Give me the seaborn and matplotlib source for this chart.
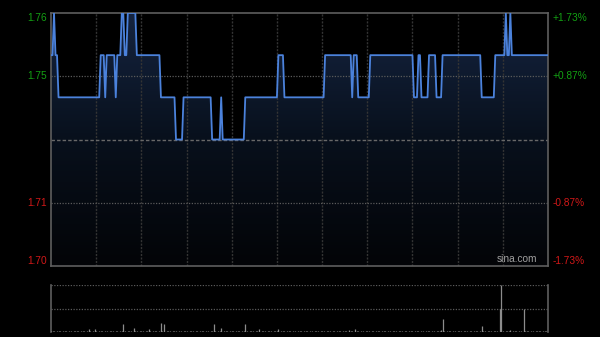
import numpy as np
import pandas as pd
import matplotlib
matplotlib.use("Agg")
import matplotlib.pyplot as plt
import seaborn as sns
from matplotlib.patches import Polygon
from matplotlib.colors import LinearSegmentedColormap

# ---------------- data ----------------
# price level changes: minute index where a new price starts, and that price
seg_start = [0, 2, 3, 5, 33, 36, 37, 43, 44, 47, 49, 51, 57, 73, 83, 88,
             107, 113, 114, 129, 151, 155, 182, 200, 201, 204, 212, 241,
             244, 246, 251, 256, 260, 286, 295, 302, 303, 305, 306]
seg_price = [1.75, 1.76, 1.75, 1.74, 1.75, 1.74, 1.75, 1.74, 1.75, 1.76,
             1.75, 1.76, 1.75, 1.74, 1.73, 1.74, 1.73, 1.74, 1.73, 1.74,
             1.75, 1.74, 1.75, 1.74, 1.75, 1.74, 1.75, 1.74, 1.75, 1.74,
             1.75, 1.74, 1.75, 1.74, 1.75, 1.76, 1.75, 1.76, 1.75]
n_minutes = 331

volume = [
    3, 2, 2, 1, 2, 3, 2, 1, 2, 2, 3, 1, 2, 2, 1, 2, 3, 2, 2, 1, 2, 2, 3, 1, 2, 7, 2, 1, 2, 6,
    2, 1, 2, 3, 2, 1, 2, 2, 1, 3, 2, 2, 1, 2, 3, 1, 2, 2, 17, 2, 1, 2, 3, 2, 1, 9, 2, 2, 1, 2,
    2, 3, 1, 2, 2, 6, 2, 1, 3, 2, 2, 1, 2, 19, 2, 16, 1, 2, 3, 2, 1, 2, 2, 3, 1, 2, 2, 1, 3, 2,
    2, 1, 2, 2, 3, 1, 2, 2, 1, 2, 3, 2, 1, 2, 2, 1, 3, 2, 17, 2, 1, 2, 2, 9, 1, 2, 3, 2, 1, 2,
    2, 2, 1, 3, 2, 2, 1, 2, 3, 17, 2, 1, 2, 2, 3, 1, 2, 2, 6, 1, 2, 3, 2, 1, 2, 2, 3, 1, 2, 2,
    2, 7, 1, 2, 3, 2, 1, 2, 2, 3, 1, 2, 2, 1, 3, 2, 2, 1, 2, 3, 2, 1, 2, 2, 1, 3, 2, 2, 1, 2,
    3, 2, 1, 2, 2, 3, 1, 2, 2, 1, 2, 3, 2, 1, 2, 2, 3, 1, 5, 2, 2, 1, 6, 2, 3, 1, 2, 2, 1, 2,
    2, 3, 1, 2, 2, 1, 3, 2, 2, 1, 2, 2, 3, 1, 2, 2, 1, 3, 2, 2, 1, 2, 2, 3, 1, 2, 2, 1, 2, 3,
    2, 1, 2, 2, 3, 1, 2, 2, 1, 2, 3, 2, 1, 2, 2, 1, 3, 2, 2, 5, 28, 2, 1, 2, 3, 2, 1, 2, 2, 1,
    2, 3, 2, 1, 2, 2, 3, 1, 2, 2, 1, 2, 3, 2, 1, 2, 12, 2, 2, 1, 3, 2, 2, 1, 2, 3, 2, 1, 50, 100,
    2, 1, 3, 2, 2, 5, 1, 2, 2, 3, 1, 2, 2, 1, 50, 2, 2, 3, 1, 2, 2, 1, 2, 3, 2, 2, 1, 2, 2, 3,
    2,
]

prev_close = 1.73
y_min, y_max = 1.70, 1.76
left_tick_values = [1.76, 1.745, 1.715, 1.70]
left_tick_labels = ["1.76", "1.75", "1.71", "1.70"]
right_tick_labels = ["+1.73%", "+0.87%", "-0.87%", "-1.73%"]
grid_minutes = [30, 60, 90, 120, 150, 180, 210, 240, 270, 300]

# ---------------- build frame ----------------
durations = np.diff(seg_start + [n_minutes])
price = np.repeat(seg_price, durations)
minute = np.arange(n_minutes)
df = pd.DataFrame({"minute": minute, "price": price, "volume": volume})

sns.set_theme(style="dark")
plt.rcParams["font.family"] = ["Liberation Sans", "DejaVu Sans"]

W, H = 600, 337
fig = plt.figure(figsize=(W / 100, H / 100), dpi=100, facecolor="black")
ax = fig.add_axes([51 / W, 1 - 266 / H, (548 - 51) / W, (266 - 13) / H])
axv = fig.add_axes([51 / W, 1 - 332 / H, (548 - 51) / W, (332 - 285) / H])

for a in (ax, axv):
    a.set_facecolor("black")
    a.set_xlim(0, n_minutes - 1)
    a.set_xticks([])
    a.set_yticks([])
    a.set_xlabel("")
    a.set_ylabel("")
    a.grid(False)

ax.set_ylim(y_min, y_max)

# gradient fill under price line
cmap = LinearSegmentedColormap.from_list("g", ["#030407", "#08101c", "#152440"])
grad = np.linspace(0, 1, 256).reshape(-1, 1)
im = ax.imshow(grad, extent=[0, n_minutes - 1, y_min, y_max], origin="lower",
               aspect="auto", cmap=cmap, zorder=1, interpolation="bilinear")
verts = [(0, y_min)] + list(zip(df["minute"], df["price"])) + [(n_minutes - 1, y_min)]
clip = Polygon(verts, closed=True, transform=ax.transData)
im.set_clip_path(clip)

# grid lines
for m in grid_minutes:
    ax.axvline(m, color="#343434", lw=1.0, ls=(0, (1.5, 1.0)), zorder=2)
for v in (1.745, 1.715):
    ax.axhline(v, color="#5a5a5a", lw=0.9, ls=(0, (1, 1.2)), zorder=2)
ax.axhline(prev_close, color="#686868", lw=1.0, ls=(0, (2.5, 1.5)), zorder=2)

sns.lineplot(data=df, x="minute", y="price", ax=ax, color="#4b82dc",
             linewidth=1.3, zorder=4)
ax.set_xlabel("")
ax.set_ylabel("")
ax.set_xlim(0, n_minutes - 1)
ax.set_ylim(y_min, y_max)

for s in ax.spines.values():
    s.set_visible(True)
    s.set_color("#5e5e5e")
    s.set_linewidth(1.2)

# labels
ytr = ax.get_yaxis_transform()
green, red = "#13a013", "#d21818"
for val, lab, rlab in zip(left_tick_values, left_tick_labels, right_tick_labels):
    col = green if val > prev_close else red
    va = "top" if val == y_max else ("bottom" if val == y_min else "center")
    ax.text(-0.009, val, lab, transform=ytr, ha="right", va=va, color=col, fontsize=7.3)
    ax.text(1.009, val, rlab, transform=ytr, ha="left", va=va, color=col, fontsize=7.3)

ax.text(0.978, 0.008, "sina.com", transform=ax.transAxes, ha="right", va="bottom",
        color="#a0a0a0", fontsize=7.3, zorder=5)

# volume panel
axv.set_ylim(0, 100)
for v in (50, 100):
    axv.axhline(v, color="#5a5a5a", lw=0.9, ls=(0, (1, 1.2)), zorder=1)
axv.vlines(df["minute"], 0, df["volume"], color="#8c8c8c", lw=0.9, zorder=3)
for k, s in axv.spines.items():
    s.set_color("#5e5e5e")
    s.set_linewidth(1.2)
    s.set_visible(k in ("left", "right"))

fig.savefig("out.png", dpi=100, facecolor="black")
